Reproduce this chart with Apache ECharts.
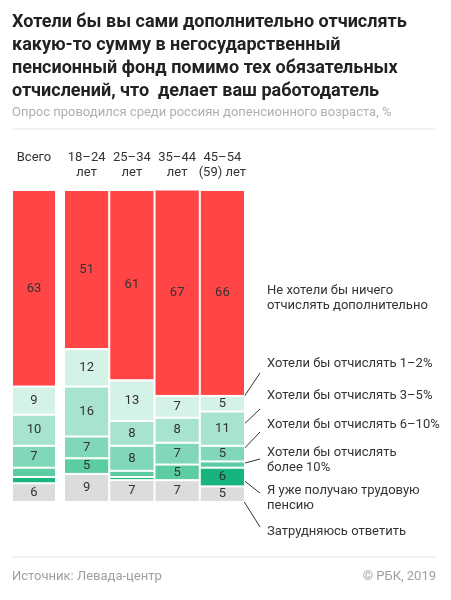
<!DOCTYPE html>
<html>
<head>
<meta charset="utf-8">
<script src="https://cdn.jsdelivr.net/npm/echarts@6/dist/echarts.min.js"></script>
<style>
  html, body { margin: 0; padding: 0; background: #fff; }
  #chart { width: 451px; height: 600px; }
</style>
</head>
<body>
<div id="chart"></div>
<script>
// age groups (second grid), the "all" column sits in its own grid
var totalLabel = ['Всего'];
var ageGroups = ['18–24\nлет', '25–34\nлет', '35–44\nлет', '45–54\n(59) лет'];

// answers, bottom of the stack first
var answerNames = [
    'Затрудняюсь ответить',
    'Я уже получаю трудовую пенсию',
    'Хотели бы отчислять более 10%',
    'Хотели бы отчислять 6–10%',
    'Хотели бы отчислять 3–5%',
    'Хотели бы отчислять 1–2%',
    'Не хотели бы ничего отчислять дополнительно'
];
var answerColors = ['#dcdcdc', '#17b47d', '#5ccda3', '#80d8b8', '#a8e4cd', '#d5f2e7', '#ff4545'];

// "Всего" column, same order as answerNames
var totalValues = [6, 2, 3, 7, 10, 9, 63];

// by age group
var unsure   = [9, 7, 7, 5];
var pension  = [0, 1, 0, 6];
var over10   = [5, 2, 5, 2];
var pay6to10 = [7, 8, 7, 5];
var pay3to5  = [16, 8, 8, 11];
var pay1to2  = [12, 13, 7, 5];
var noWish   = [51, 61, 67, 66];
var groupValues = [unsure, pension, over10, pay6to10, pay3to5, pay1to2, noWish];

// side notes, bottom of the stack first
var noteTexts = [
    'Затрудняюсь ответить',
    'Я уже получаю трудовую\nпенсию',
    'Хотели бы отчислять\nболее 10%',
    'Хотели бы отчислять 6–10%',
    'Хотели бы отчислять 3–5%',
    'Хотели бы отчислять 1–2%',
    'Не хотели бы ничего\nотчислять дополнительно'
];

var FONT = 'Roboto';
var dark = '#333333';

var chart = echarts.init(document.getElementById('chart'));

var series = [];
answerNames.forEach(function (name, i) {
    var common = {
        name: name,
        type: 'bar',
        barCategoryGap: 0,
        itemStyle: { color: answerColors[i], borderColor: '#fff', borderWidth: 1 },
        label: {
            show: true,
            position: 'inside',
            color: dark,
            fontFamily: FONT,
            fontSize: 13,
            formatter: function (p) { return p.value >= 4 ? p.value : ''; }
        },
        emphasis: { disabled: true },
        animation: false
    };
    series.push(Object.assign({}, common, {
        xAxisIndex: 0, yAxisIndex: 0, stack: 'all', data: [totalValues[i]]
    }));
    series.push(Object.assign({}, common, {
        xAxisIndex: 1, yAxisIndex: 1, stack: 'age', data: groupValues[i]
    }));
});

var xLabel = { color: dark, fontFamily: FONT, fontSize: 13, lineHeight: 15, interval: 0 };
var small = { fontFamily: FONT, fontSize: 13, fontWeight: 'normal', color: '#a0a0a0' };

var option = {
    backgroundColor: '#fff',
    animation: false,
    title: [
        {
            text: 'Хотели бы вы сами дополнительно отчислять\nкакую-то сумму в негосударственный\nпенсионный фонд помимо тех обязательных\nотчислений, что  делает ваш работодатель',
            left: 12, top: 11, padding: 0,
            textStyle: { fontFamily: FONT, fontSize: 18, fontWeight: 'bold', color: '#222', lineHeight: 23 }
        },
        {
            text: 'Опрос проводился среди россиян допенсионного возраста, %',
            left: 12, top: 106, padding: 0,
            textStyle: Object.assign({}, small, { color: '#b0b0b0' })
        },
        {
            text: 'Источник: Левада-центр',
            left: 12, top: 570, padding: 0,
            textStyle: small
        },
        {
            text: '© РБК, 2019',
            right: 15, top: 570, padding: 0,
            textStyle: small
        }
    ],
    grid: [
        { left: 12, top: 190, width: 44, height: 312 },
        { left: 64, top: 190, width: 181, height: 312 }
    ],
    xAxis: [
        {
            gridIndex: 0, type: 'category', position: 'top', data: totalLabel,
            axisLine: { show: false }, axisTick: { show: false },
            axisLabel: Object.assign({ margin: 25 }, xLabel)
        },
        {
            gridIndex: 1, type: 'category', position: 'top', data: ageGroups,
            axisLine: { show: false }, axisTick: { show: false },
            axisLabel: Object.assign({ margin: 10 }, xLabel)
        }
    ],
    yAxis: [
        { gridIndex: 0, type: 'value', min: 0, max: 100, show: false },
        { gridIndex: 1, type: 'value', min: 0, max: 100, show: false }
    ],
    series: series,
    graphic: [
        { type: 'line', shape: { x1: 12, y1: 129, x2: 436, y2: 129 }, style: { stroke: '#e6e6e6', lineWidth: 1 } },
        { type: 'line', shape: { x1: 12, y1: 557, x2: 436, y2: 557 }, style: { stroke: '#e6e6e6', lineWidth: 1 } }
    ]
};

chart.setOption(option);

// notes beside the last column, lines start in the middle of each segment
var noteY = [532, 491, 453, 425, 396, 364, 291];      // first text line centre
var lineEndY = [527, 493, 459, 432, 409, 373, null];
var last = ageGroups.length - 1;
var graphics = [];
var base = 0;
groupValues.forEach(function (vals, i) {
    var v = vals[last];
    var mid = chart.convertToPixel({ xAxisIndex: 1, yAxisIndex: 1 }, [last, base + v / 2]);
    base += v;
    graphics.push({
        type: 'text', left: 267, top: noteY[i] - 8,
        style: { text: noteTexts[i], fill: dark, font: '13px ' + FONT, lineHeight: 15 }
    });
    if (lineEndY[i] !== null) {
        graphics.push({
            type: 'line',
            shape: { x1: mid[0] + 17, y1: mid[1], x2: 260, y2: lineEndY[i] },
            style: { stroke: dark, lineWidth: 1 }
        });
    }
});
chart.setOption({ graphic: option.graphic.concat(graphics) });
</script>
</body>
</html>
